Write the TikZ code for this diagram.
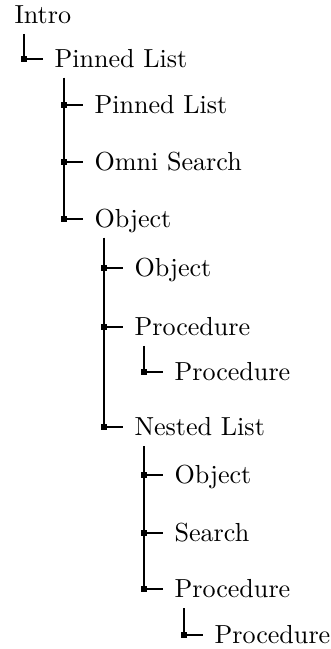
\documentclass[tikz,border=0pt]{standalone}
\usepackage{tikz}

\begin{document}
\begin{tikzpicture}[x=0.3832pt, y=-0.3832pt,
        entry/.style={anchor=west, inner sep=0pt, text height=6.83pt, text depth=0pt},
        marker/.style={fill, inner sep=0pt, minimum size=2.6pt}]
        \useasboundingbox (0,0) rectangle (330,649);
        \node[entry] (intro) at (14,15) {Intro};
        \node[entry] (pin) at (54,59) {Pinned List};
        \node[entry] (pinA) at (94,105) {Pinned List};
        \node[entry] (omni) at (94,162) {Omni Search};
        \node[entry] (obj) at (94,219) {Object};
        \node[entry] (objA) at (134,268) {Object};
        \node[entry] (proc) at (134,327) {Procedure};
        \node[entry] (procA) at (174,372) {Procedure};
        \node[entry] (nest) at (134,427) {Nested List};
        \node[entry] (nobj) at (174,475) {Object};
        \node[entry] (nsearch) at (174,533) {Search};
        \node[entry] (nproc) at (174,589) {Procedure};
        \node[entry] (nprocA) at (214,635) {Procedure};
        \foreach \p/\c in {intro/pin, pin/pinA, pin/omni, pin/obj, obj/objA, obj/proc,
                proc/procA, obj/nest, nest/nobj, nest/nsearch, nest/nproc, nproc/nprocA}
            \draw (\p.west) ++(10,19) |- node[marker]{} ([xshift=-4.2pt]\c.west);
    \end{tikzpicture}
\end{document}
